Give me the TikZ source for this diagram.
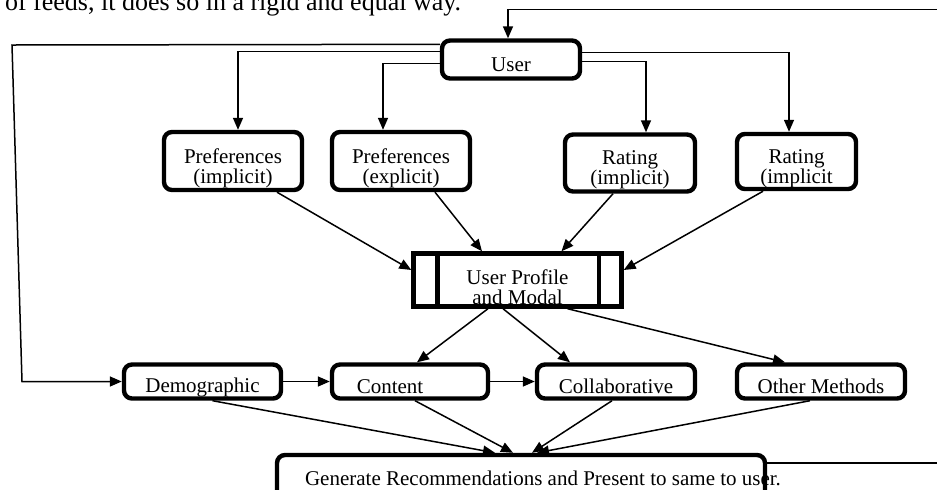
\documentclass[tikz,border=0pt]{standalone}
\usepackage{fontspec}
\setmainfont{Liberation Serif}
\usetikzlibrary{arrows.meta,positioning}
\newcommand{\dn}[1]{\rule{0pt}{#1}}
\newcommand{\dnb}[1]{\rule[-2.2pt]{0pt}{#1}}

\begin{document}
\begin{tikzpicture}[
  x=0.5pt,y=-0.5pt,
  font=\fontsize{10.5}{10}\selectfont,
  box/.style={draw,line width=2.2pt,rounded corners=4pt,align=center,inner sep=0.5pt},
  method/.style={box,minimum height=17pt},
  prof/.style={draw,line width=2.2pt,align=center,inner sep=0.5pt,minimum width=104pt,minimum height=26.5pt},
  arr/.style={-{Triangle[length=6pt,width=5pt]},line width=0.75pt},
]
\clip (0,0) rectangle (937,489);
\node[anchor=base west,font=\fontsize{13}{15}\selectfont] (caption) at (-2,10) {of feeds, it does so in a rigid and equal way.};
\node[box,minimum width=69pt,minimum height=19pt] (user) at (511,59.5) {\dn{12.5pt}User};
\node[box,minimum width=69pt,minimum height=29pt] (prefI) at (233,161) {\dn{14.3pt}Preferences\\(implicit)};
\node[box,minimum width=69pt,minimum height=29pt] (prefE) at (401,161) {\dn{14.3pt}Preferences\\(explicit)};
\node[box,minimum width=65pt,minimum height=28.5pt] (rateI) at (630,163) {\dn{13.3pt}Rating\\(implicit)};
\node[box,minimum width=59.5pt,minimum height=27pt] (rateI2) at (796.5,161.5) {\dn{14.3pt}Rating\\(implicit};
\node[prof] (prof) at (517.5,280) {\dn{14.5pt}User Profile\\and Modal};
\node[method,minimum width=78.5pt] (demo) at (202.5,381.5) {\dnb{15.9pt}Demographic};
\node[method,minimum width=78pt] (content) at (410,381.5) {\dnb{15.9pt}Content\hspace{20pt}};
\node[method,minimum width=79pt] (collab) at (616,381.5) {\dnb{15.9pt}Collaborative};
\node[method,minimum width=84pt] (other) at (821,381.5) {\dnb{15.9pt}Other Methods};
\node[box,minimum width=244pt,minimum height=24pt] (gen) at (521,479) {};
\node[anchor=base west] (gentext) at (298,485) {Generate Recommendations and Present to same to user.};
\draw[line width=2.2pt] ([xshift=13pt]prof.north west) -- ([xshift=13pt]prof.south west);
\draw[line width=2.2pt] ([xshift=-12.5pt]prof.north east) -- ([xshift=-12.5pt]prof.south east);
\draw[arr] ([yshift=-5pt]gen.north east) -- ++(220,0) |- ([xshift=-1.5pt,yshift=14.5pt]user.north) -- ([xshift=-1.5pt]user.north);
\draw[arr] ([yshift=-3pt]user.north west) -- (12,45) -- (22,381.5) -- (demo.west);
\draw[arr] ([yshift=-6.5pt]user.north west) -| ([xshift=2.5pt]prefI.north);
\draw[arr] ([yshift=-12.5pt]user.north west) -| ([xshift=-9pt]prefE.north);
\draw[arr] ([yshift=-11.5pt]user.north east) -| ([xshift=8pt]rateI.north);
\draw[arr] ([yshift=-7pt]user.north east) -| ([xshift=-3.75pt]rateI2.north);
\draw[arr] ([xshift=22pt]prefI.south) -- ([yshift=5pt]prof.west);
\draw[arr] ([xshift=17pt]prefE.south) -- ([xshift=-17.75pt]prof.north);
\draw[arr] ([xshift=-8.5pt]rateI.south) -- ([xshift=22pt]prof.north);
\draw[arr] ([xshift=-16.75pt]rateI2.south) -- ([yshift=5pt]prof.east);
\draw[arr] ([xshift=-14.75pt]prof.south) -- ([xshift=3.5pt]content.north);
\draw[arr] ([xshift=-7.25pt]prof.south) -- ([xshift=-23pt]collab.north);
\draw[arr] ([xshift=25pt]prof.south) -- ([xshift=-18pt]other.north);
\draw[arr] (demo) -- (content);
\draw[arr] (content) -- (collab);
\draw[arr] ([xshift=5pt]demo.south) -- ([xshift=-13pt]gen.north);
\draw[arr] ([xshift=2.5pt]content.south) -- ([xshift=-4pt]gen.north);
\draw[arr] ([xshift=-2pt]collab.south) -- ([xshift=5.5pt]gen.north);
\draw[arr] ([xshift=-5.5pt]other.south) -- ([xshift=8pt]gen.north);
\end{tikzpicture}
\end{document}
